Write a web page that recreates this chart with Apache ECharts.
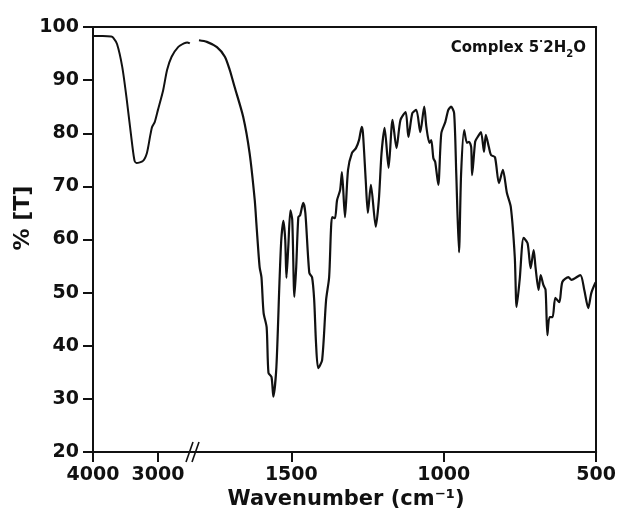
<!DOCTYPE html>
<html>
<head>
<meta charset="utf-8">
<script src="https://cdn.jsdelivr.net/npm/echarts@6/dist/echarts.min.js"></script>
<style>html,body{margin:0;padding:0;background:#fff;}#c{width:619px;height:520px;}</style>
</head>
<body>
<div id="c"></div>
<script>
// High-wavenumber segment (cm-1, %T)
const highWN = [4000,3850,3720,3690,3630,3550,3480,3400,3360,3330,3230,3170,3120,3090,3050,3000,2920,2860,2790,2690,2600,2550,2510];
const highT  = [98.3,98.3,98.2,98.0,96.8,92.5,86.3,78.2,74.8,74.4,74.8,76.3,79.5,81.2,82.1,84.4,88.1,91.9,94.4,96.2,96.9,97.1,96.9];

// Low-wavenumber segment (cm-1, %T)
const lowWN = [1803,1777,1744,1718,1702,1686,1658,1637,1620,1614,1604,1598,1591,1581,1575,1565,1559,1549,1539,1533,1526,1520,1516,1510,1503,1497,1490,1484,1477,1471,1461,1454,1441,1432,1425,1419,1412,1399,1386,1376,1370,1366,1357,1350,1340,1334,1324,1314,1301,1288,1278,1269,1265,1256,1249,1239,1223,1213,1204,1194,1181,1168,1155,1142,1125,1116,1103,1090,1077,1064,1057,1047,1041,1034,1028,1018,1008,995,985,976,966,959,950,943,933,924,917,910,907,897,891,878,868,862,852,845,832,819,806,793,780,767,761,751,738,725,715,705,699,689,682,673,666,660,653,643,634,621,611,591,581,552,539,526,516,503,500];
const lowT  = [97.5,97.2,96.2,94.4,91.9,88.7,83.1,76.3,67.4,62.5,54.8,52.9,46.2,43.5,34.9,34.1,30.4,36.0,51.8,59.9,63.5,59.9,52.8,58.6,65.5,63.7,49.2,54.8,64.2,64.6,66.9,65.0,53.7,52.9,48.6,40.5,35.8,37.3,48.6,52.9,61.8,64.2,64.0,67.4,69.3,72.7,64.2,73.1,76.3,77.2,78.7,81.2,80.0,71.2,65.0,70.3,62.4,67.4,76.3,81.0,73.5,82.5,77.2,82.5,84.0,79.3,83.8,84.4,80.2,85.0,81.2,78.2,78.7,75.3,74.6,70.3,80.0,82.1,84.4,85.0,83.8,72.5,57.6,72.5,80.6,78.2,78.4,77.4,72.1,78.4,79.1,80.2,76.5,79.7,77.4,75.9,75.5,70.6,73.1,68.8,66.1,56.7,47.3,52.4,60.3,59.3,54.6,58.0,54.8,50.5,53.3,51.4,50.5,42.0,45.4,45.4,49.0,48.2,52.0,52.9,52.4,53.3,50.5,47.1,49.9,51.8,52.0];

// Axis tick labels
const highTicks = [4000, 3000];
const lowTicks = [1500, 1000, 500];
const yMin = 20, yMax = 100, yStep = 10;

const FONT = 'DejaVu Sans';
const INK = '#111';

const chart = echarts.init(document.getElementById('c'), null, {renderer: 'canvas'});

const lineStyleAxis = {color: INK, width: 2};
const bottomAxis = (grid, min, max, ticks) => ({
  type: 'value', gridIndex: grid, position: 'bottom', min: min, max: max, inverse: true,
  axisLine: {show: true, onZero: false, lineStyle: lineStyleAxis},
  axisTick: {show: true, length: 10, inside: false, customValues: ticks, lineStyle: lineStyleAxis},
  axisLabel: {show: true, customValues: ticks, margin: 14, fontSize: 19, fontWeight: 'bold', fontFamily: FONT, color: INK,
    formatter: v => String(v)},
  splitLine: {show: false}, minorTick: {show: false}
});
const topAxis = (grid, min, max) => ({
  type: 'value', gridIndex: grid, position: 'top', min: min, max: max, inverse: true,
  axisLine: {show: true, onZero: false, lineStyle: lineStyleAxis},
  axisTick: {show: false}, axisLabel: {show: false}, splitLine: {show: false}
});

const option = {
  backgroundColor: '#fff',
  animation: false,
  grid: [
    {left: 93, right: 619 - 195, top: 27, bottom: 68},
    {left: 195, right: 20, top: 27, bottom: 68}
  ],
  xAxis: [
    bottomAxis(0, 2430, 4000, highTicks),
    bottomAxis(1, 500, 1816, lowTicks),
    topAxis(0, 2430, 4000),
    topAxis(1, 500, 1816)
  ],
  yAxis: [
    {
      type: 'value', gridIndex: 0, position: 'left', min: yMin, max: yMax, interval: yStep,
      axisLine: {show: true, onZero: false, lineStyle: lineStyleAxis},
      axisTick: {show: true, length: 10, inside: false, lineStyle: lineStyleAxis},
      axisLabel: {show: true, margin: 14, fontSize: 19, fontWeight: 'bold', fontFamily: FONT, color: INK},
      splitLine: {show: false}
    },
    {
      type: 'value', gridIndex: 1, position: 'right', min: yMin, max: yMax, interval: yStep,
      axisLine: {show: true, onZero: false, lineStyle: lineStyleAxis},
      axisTick: {show: false}, axisLabel: {show: false}, splitLine: {show: false}
    }
  ],
  series: [
    {
      type: 'line', xAxisIndex: 0, yAxisIndex: 0, showSymbol: false, smooth: 0.25,
      lineStyle: {color: INK, width: 2},
      data: highWN.map((w, i) => [w, highT[i]])
    },
    {
      type: 'line', xAxisIndex: 1, yAxisIndex: 1, showSymbol: false, smooth: 0.25,
      lineStyle: {color: INK, width: 2.2},
      data: lowWN.map((w, i) => [w, lowT[i]])
    }
  ],
  graphic: [
    {type: 'line', shape: {x1: 186, y1: 462, x2: 193, y2: 442}, style: {stroke: INK, lineWidth: 1.6}},
    {type: 'line', shape: {x1: 192, y1: 462, x2: 199, y2: 442}, style: {stroke: INK, lineWidth: 1.6}},
    {type: 'text', x: 23, y: 218, rotation: Math.PI / 2,
      style: {text: '% [T]', fontSize: 22, fontWeight: 'bold', fontFamily: FONT, fill: INK, align: 'center', verticalAlign: 'middle'}},
    {type: 'text', x: 346, y: 500,
      style: {text: 'Wavenumber (cm⁻¹)', fontSize: 21, fontWeight: 'bold', fontFamily: FONT, fill: INK, align: 'center', verticalAlign: 'middle'}},
    {type: 'text', x: 586, y: 48,
      style: {
        text: '{m|Complex 5}{d|·}{m|2H}{s|2}{m|O}',
        fontFamily: FONT, fontWeight: 'bold', fill: INK, align: 'right', verticalAlign: 'middle',
        rich: {
          m: {fontSize: 15, fontWeight: 'bold', fontFamily: FONT, fill: INK, lineHeight: 22, verticalAlign: 'middle'},
          d: {fontSize: 11, fontWeight: 'bold', fontFamily: FONT, fill: INK, lineHeight: 22, verticalAlign: 'top', padding: [0, 0, 0, 0]},
          s: {fontSize: 10, fontWeight: 'bold', fontFamily: FONT, fill: INK, lineHeight: 22, verticalAlign: 'bottom', padding: [0, 0, 0, 0]}
        }
      }}
  ]
};
chart.setOption(option);
</script>
</body>
</html>
